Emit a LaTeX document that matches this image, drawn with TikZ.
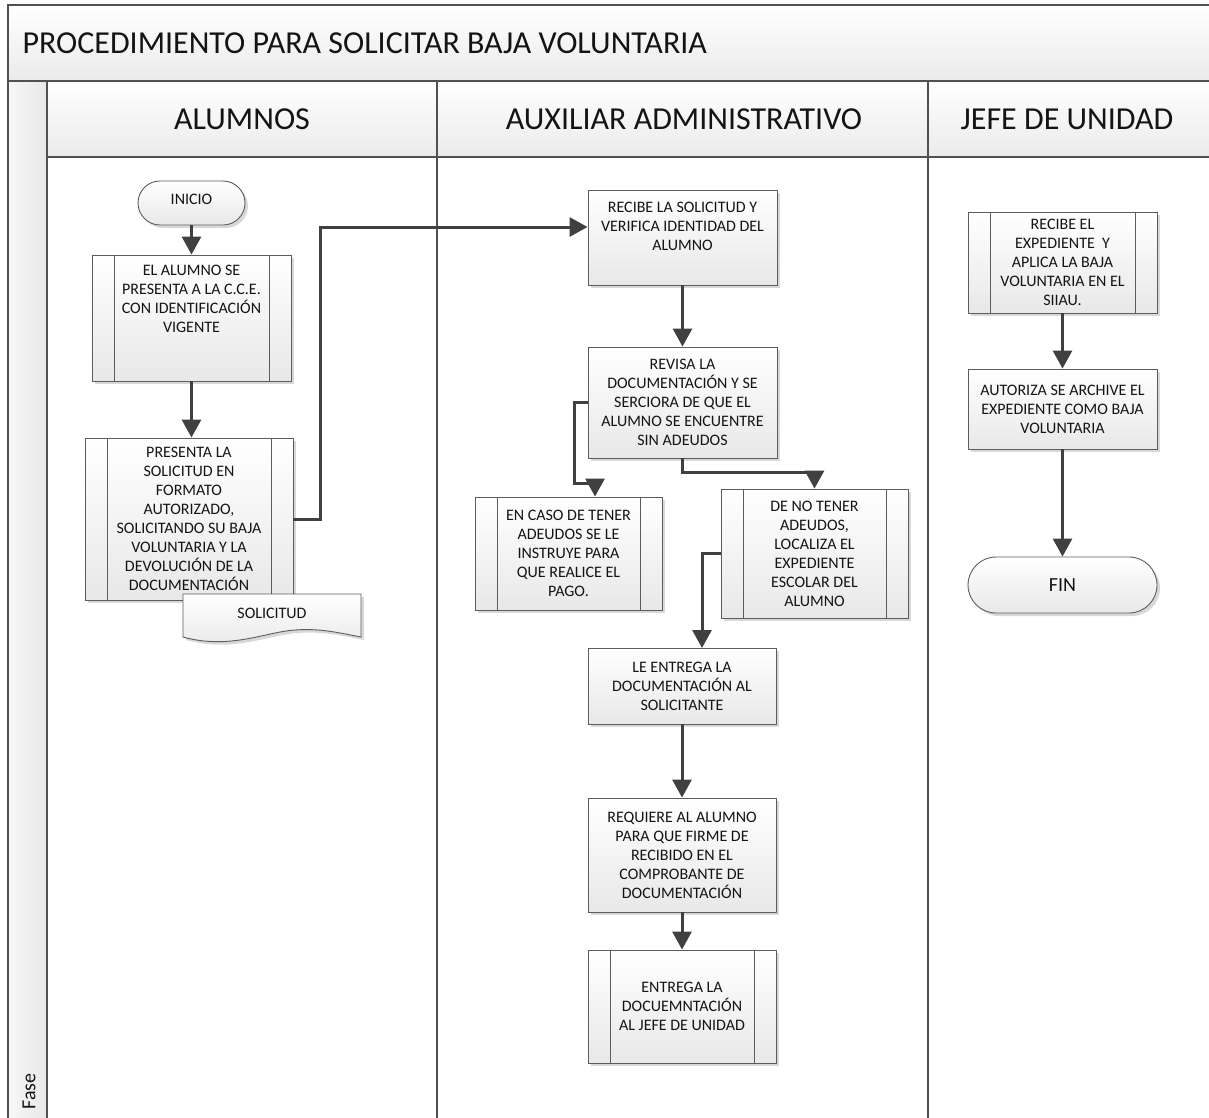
\documentclass[tikz,border=0pt]{standalone}
\usepackage{fontspec}
\setmainfont{Carlito}
\usetikzlibrary{arrows.meta,shadows,shapes.misc}
\definecolor{flowcol}{HTML}{404040}
\definecolor{framecol}{HTML}{505050}
\definecolor{boxline}{HTML}{5C5C5C}
\definecolor{inkcol}{HTML}{141414}
\begin{document}
\begin{tikzpicture}[x=1pt,y=-1pt,
  boxfont/.style={font=\fontsize{16}{19}\selectfont, text=inkcol},
  bigfont/.style={font=\fontsize{32}{36}\selectfont, text=inkcol},
  boxshadow/.style={drop shadow={shadow xshift=3pt, shadow yshift=-3pt, fill=black!30, opacity=0.5}},
  stepbox/.style={draw=boxline, line width=0.9pt, top color=white, bottom color=black!9,
    boxshadow, boxfont, align=center, inner sep=0pt},
  subproc/.style={stepbox, path picture={
    \draw[boxline, line width=0.9pt]
      ([xshift=22pt]path picture bounding box.north west) -- ([xshift=22pt]path picture bounding box.south west)
      ([xshift=-22pt]path picture bounding box.north east) -- ([xshift=-22pt]path picture bounding box.south east);}},
  terminal/.style={stepbox, rounded rectangle},
  flow/.style={draw=flowcol, line width=3pt, -{Triangle[width=19pt,length=18pt]}},
  bandfill/.style={top color=white, bottom color=black!8},
]
\useasboundingbox (0,0) rectangle (1209,1117);
\clip (0,0) rectangle (1209,1117);

% swimlane frame
\fill[bandfill] (8,5) rectangle (1220,81);
\fill[bandfill] (47,81) rectangle (1220,157);
\fill[left color=black!3, right color=black!9] (8,81) rectangle (47,1125);
\draw[framecol, line width=2pt] (1220,5) -- (8,5) -- (8,1125);
\draw[framecol, line width=1.6pt]
  (8,81) -- (1220,81)
  (47,81) -- (47,1125)
  (47,157) -- (1220,157)
  (437,81) -- (437,1125)
  (928,81) -- (928,1125);

\node[bigfont, anchor=west] (title) at (19,43) {PROCEDIMIENTO PARA SOLICITAR BAJA VOLUNTARIA};
\node[bigfont] (laneA) at (242,119) {ALUMNOS};
\node[bigfont] (laneB) at (684,119) {AUXILIAR ADMINISTRATIVO};
\node[bigfont] (laneC) at (1067,119) {JEFE DE UNIDAD};
\node[font=\fontsize{20}{24}\selectfont, text=inkcol, rotate=90, anchor=west] (fase) at (29,1113) {Fase};

% ALUMNOS
\node[terminal, minimum width=107pt, minimum height=44pt] (ini) at (191.5,203) {};
\node[boxfont] (init) at (191.5,199) {INICIO};
\node[subproc, minimum width=199pt, minimum height=126pt] (b1) at (191.5,318) {};
\node[boxfont, align=center] (b1t) at (191.5,299) {EL ALUMNO SE\\PRESENTA A LA C.C.E.\\CON IDENTIFICACIÓN\\VIGENTE};
\node[subproc, minimum width=208pt, minimum height=162pt] (b2) at (189,519)
  {PRESENTA LA\\SOLICITUD EN\\FORMATO\\AUTORIZADO,\\SOLICITANDO SU BAJA\\VOLUNTARIA Y LA\\DEVOLUCIÓN DE LA\\DOCUMENTACIÓN};
\path[draw=boxline, line width=0.9pt, top color=white, bottom color=black!9, boxshadow]
  (183,594) -- (361,594) -- (361,637)
  .. controls (340,633) and (320,628) .. (295,630)
  .. controls (265,632) and (230,650) .. (183,637) -- cycle;
\node[boxfont] (doc) at (272,613) {SOLICITUD};

% AUXILIAR ADMINISTRATIVO
\node[stepbox, minimum width=189pt, minimum height=95pt] (b3) at (682.5,237.5) {};
\node[boxfont, align=center] (b3t) at (682.5,226) {RECIBE LA SOLICITUD Y\\VERIFICA IDENTIDAD DEL\\ALUMNO};
\node[stepbox, minimum width=189pt, minimum height=111pt] (b4) at (682.5,402.5)
  {REVISA LA\\DOCUMENTACIÓN Y SE\\SERCIORA DE QUE EL\\ALUMNO SE ENCUENTRE\\SIN ADEUDOS};
\node[subproc, minimum width=187pt, minimum height=113pt] (b5) at (568.5,553.5)
  {EN CASO DE TENER\\ADEUDOS SE LE\\INSTRUYE PARA\\QUE REALICE EL\\PAGO.};
\node[subproc, minimum width=187pt, minimum height=129pt] (b6) at (814.5,553.5)
  {DE NO TENER\\ADEUDOS,\\LOCALIZA EL\\EXPEDIENTE\\ESCOLAR DEL\\ALUMNO};
\node[stepbox, minimum width=188pt, minimum height=76pt] (b7) at (682,686)
  {LE ENTREGA LA\\DOCUMENTACIÓN AL\\SOLICITANTE};
\node[stepbox, minimum width=188pt, minimum height=114pt] (b8) at (682,855)
  {REQUIERE AL ALUMNO\\PARA QUE FIRME DE\\RECIBIDO EN EL\\COMPROBANTE DE\\DOCUMENTACIÓN};
\node[subproc, minimum width=188pt, minimum height=113pt] (b9) at (682,1006.5)
  {ENTREGA LA\\DOCUEMNTACIÓN\\AL JEFE DE UNIDAD};

% JEFE DE UNIDAD
\node[subproc, minimum width=189pt, minimum height=101pt] (j1) at (1062.5,262.5)
  {RECIBE EL\\EXPEDIENTE~~Y\\APLICA LA BAJA\\VOLUNTARIA EN EL\\SIIAU.};
\node[stepbox, minimum width=189pt, minimum height=80pt] (j2) at (1062.5,409)
  {AUTORIZA SE ARCHIVE EL\\EXPEDIENTE COMO BAJA\\VOLUNTARIA};
\node[terminal, minimum width=189pt, minimum height=56pt, font=\fontsize{20}{24}\selectfont] (fin) at (1062.5,585) {FIN};

% connector bends
\coordinate (c1) at (320,227);
\coordinate (c2) at (574,483);
\coordinate (c3) at (595,483);
\coordinate (c4) at (814.5,472);
\coordinate (c5) at (702,648);

% connectors
\draw[flow] (ini) -- (b1);
\draw[flow] (b1.south) -- (b1.south |- b2.north);
\draw[flow] (b2.east) -| (c1) -- (b3.west |- c1);
\draw[flow] (b3) -- (b4);
\draw[flow] (b4.west) -| (c2) -- (c3) -- (c3 |- b5.north);
\draw[flow] (b4.south) |- (c4) -- (b6.north);
\draw[flow] (b6.west) -| (c5);
\draw[flow] (b7) -- (b8);
\draw[flow] (b8) -- (b9);
\draw[flow] (j1) -- (j2);
\draw[flow] (j2) -- (fin);
\end{tikzpicture}
\end{document}
